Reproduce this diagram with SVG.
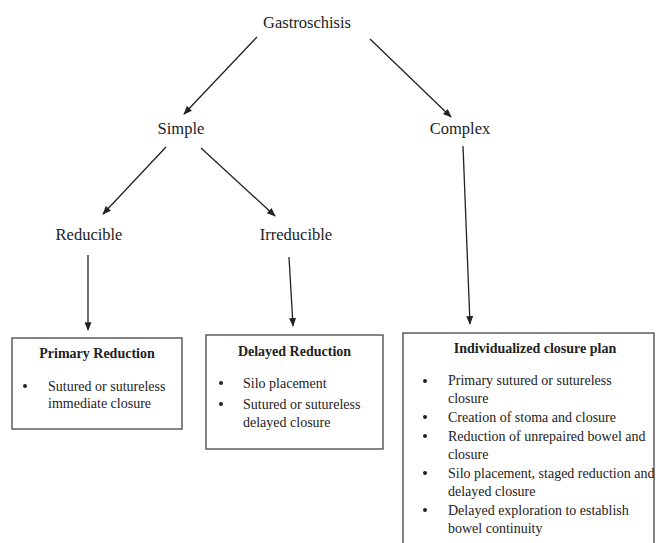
<svg xmlns="http://www.w3.org/2000/svg" width="656" height="543" viewBox="0 0 656 543">
<defs>
<style>
.lbl{font-family:"Liberation Serif","Times New Roman",serif;font-size:16.5px;fill:#222;text-anchor:middle}
.ttl{font-family:"Liberation Serif","Times New Roman",serif;font-size:14px;font-weight:bold;fill:#222;text-anchor:middle}
.txt{font-family:"Liberation Serif","Times New Roman",serif;font-size:14px;fill:#222}
.box{fill:#fff;stroke:#444;stroke-width:1.3}
.con{stroke:#222;stroke-width:1.3;fill:none;marker-end:url(#ah)}
</style>
<marker id="ah" viewBox="0 0 10 8" refX="9" refY="4" markerWidth="9" markerHeight="7" markerUnits="userSpaceOnUse" orient="auto">
<path d="M0,0 L10,4 L0,8 z" fill="#222"/>
</marker>
</defs>
<rect width="656" height="543" fill="#fff"/>
<g id="connectors">
<line class="con" x1="257" y1="37" x2="184" y2="114"/>
<line class="con" x1="370" y1="39" x2="451" y2="117"/>
<line class="con" x1="166" y1="147" x2="103" y2="214"/>
<line class="con" x1="201" y1="148" x2="275" y2="216"/>
<line class="con" x1="88" y1="255" x2="88" y2="330"/>
<line class="con" x1="289" y1="257" x2="293" y2="326"/>
<line class="con" x1="463" y1="146" x2="470" y2="324"/>
</g>
<g id="gastroschisis"><text class="lbl" x="307" y="28">Gastroschisis</text></g>
<g id="simple"><text class="lbl" x="181" y="134">Simple</text></g>
<g id="complex"><text class="lbl" x="460" y="134">Complex</text></g>
<g id="reducible"><text class="lbl" x="89" y="240">Reducible</text></g>
<g id="irreducible"><text class="lbl" x="296" y="240">Irreducible</text></g>
<g id="primary-reduction">
<rect class="box" x="12" y="338" width="170" height="91"/>
<text class="ttl" x="97" y="358">Primary Reduction</text>
<circle cx="25" cy="386" r="2" fill="#222"/>
<text class="txt" x="48" y="391">Sutured or sutureless</text>
<text class="txt" x="48" y="408">immediate closure</text>
</g>
<g id="delayed-reduction">
<rect class="box" x="206" y="335" width="177" height="114"/>
<text class="ttl" x="294.5" y="356">Delayed Reduction</text>
<circle cx="221" cy="383" r="2" fill="#222"/>
<text class="txt" x="243" y="388">Silo placement</text>
<circle cx="221" cy="404" r="2" fill="#222"/>
<text class="txt" x="243" y="409">Sutured or sutureless</text>
<text class="txt" x="243" y="427">delayed closure</text>
</g>
<g id="individualized-closure-plan">
<rect class="box" x="403" y="333" width="251" height="215"/>
<text class="ttl" x="535" y="353">Individualized closure plan</text>
<circle cx="425" cy="381" r="2" fill="#222"/>
<text class="txt" x="448" y="385">Primary sutured or sutureless</text>
<text class="txt" x="448" y="403">closure</text>
<circle cx="425" cy="417" r="2" fill="#222"/>
<text class="txt" x="448" y="422">Creation of stoma and closure</text>
<circle cx="425" cy="436" r="2" fill="#222"/>
<text class="txt" x="448" y="441">Reduction of unrepaired bowel and</text>
<text class="txt" x="448" y="459">closure</text>
<circle cx="425" cy="473" r="2" fill="#222"/>
<text class="txt" x="448" y="478">Silo placement, staged reduction and</text>
<text class="txt" x="448" y="496">delayed closure</text>
<circle cx="425" cy="510" r="2" fill="#222"/>
<text class="txt" x="448" y="515">Delayed exploration to establish</text>
<text class="txt" x="448" y="533">bowel continuity</text>
</g>
</svg>
